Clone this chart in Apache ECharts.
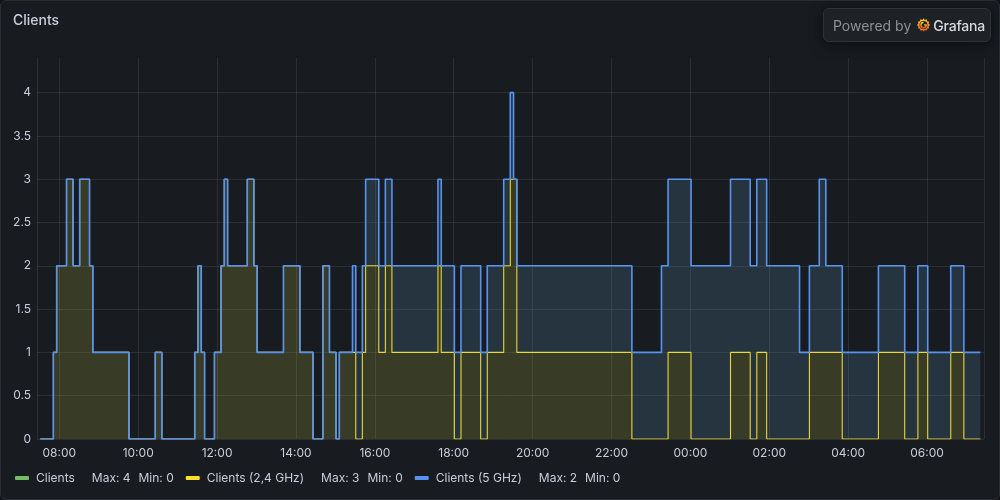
<!DOCTYPE html>
<html>
<head>
<meta charset="utf-8">
<script src="https://cdn.jsdelivr.net/npm/echarts@6/dist/echarts.min.js"></script>
<style>
  html, body { margin:0; padding:0; background:#111217; }
  #panel { position:absolute; left:0; top:0; width:1000px; height:500px; box-sizing:border-box;
           background:#181b1f; border:1px solid #2a2d33; border-radius:6px; overflow:hidden; }
  #chart { position:absolute; left:0; top:0; width:1000px; height:500px; }
  #badge { position:absolute; left:823px; top:8px; width:168px; height:34px; box-sizing:border-box;
           background:#1e2126; border:1px solid #2f3238; border-radius:6px;
           box-shadow:0 2px 14px rgba(0,0,0,0.55); display:flex; align-items:center;
           padding-left:9px; font-family:Inter, "Noto Sans", sans-serif; font-size:14px; color:#8e9096; }
  #badge svg { margin-left:5px; margin-right:2px; }
  #badge .g { color:#d8d9da; font-weight:500; letter-spacing:-0.2px; }
</style>
</head>
<body>
<div id="panel"><div id="chart"></div></div>
<div id="badge"><span>Powered by</span>
  <svg width="15" height="16" viewBox="0 0 16 16">
    <defs><linearGradient id="lg" x1="0" y1="0" x2="0" y2="1">
      <stop offset="0" stop-color="#fbd91f"/><stop offset="1" stop-color="#f05a28"/></linearGradient></defs>
    <path d="M8 0.8 L9.3 2.6 L11.4 1.9 L11.8 4.1 L14 4.6 L13.4 6.7 L15.2 8 L13.4 9.3 L14 11.4 L11.8 11.9 L11.4 14.1 L9.3 13.4 L8 15.2 L6.7 13.4 L4.6 14.1 L4.2 11.9 L2 11.4 L2.6 9.3 L0.8 8 L2.6 6.7 L2 4.6 L4.2 4.1 L4.6 1.9 L6.7 2.6 Z" fill="url(#lg)"/>
    <circle cx="8" cy="8" r="4.2" fill="#1e2126"/>
    <path d="M8 5.2 A2.8 2.8 0 1 0 10.8 8 L8.6 8" fill="none" stroke="url(#lg)" stroke-width="1.6"/>
  </svg>
  <span class="g">Grafana</span></div>
<script>
// ---- data ----
const times = ['07:31','07:51','07:56','08:11','08:21','08:31','08:46','08:51','09:46','10:26',
  '10:36','11:26','11:31','11:36','11:41','11:56','12:06','12:11','12:16','12:46',
  '12:56','13:01','13:41','14:06','14:26','14:41','14:51','15:01','15:06','15:26',
  '15:31','15:41','15:46','16:06','16:16','16:26','17:36','17:41','18:01','18:11',
  '18:41','18:51','19:16','19:26','19:31','19:36','22:31','23:16','23:26','00:01',
  '01:01','01:31','01:41','01:56','02:46','03:01','03:16','03:26','03:51','04:46',
  '05:26','05:46','06:01','06:36','06:56','07:21'];
const clients = [0,1,2,3,2,3,2,1,0,1,
  0,1,2,1,0,1,2,3,2,3,
  2,1,2,1,0,2,1,0,1,2,
  1,2,3,2,3,2,3,2,1,2,
  1,2,3,4,3,2,1,2,3,2,
  3,2,3,2,1,2,3,2,1,2,
  1,2,1,2,1,1];
const clients24 = [0,1,2,3,2,3,2,1,0,1,
  0,1,2,1,0,1,2,3,2,3,
  2,1,2,1,0,2,1,0,1,1,
  0,1,2,1,2,1,2,1,0,1,
  0,1,2,3,3,1,0,0,1,0,
  1,0,1,0,0,1,1,1,0,1,
  0,1,0,1,0,0];
const clients5 = [0,0,0,0,0,0,0,0,0,0,
  0,0,0,0,0,0,0,0,0,0,
  0,0,0,0,0,0,0,0,0,1,
  1,1,1,1,1,1,1,1,1,1,
  1,1,1,1,0,1,1,2,2,2,
  2,2,2,2,1,1,2,1,1,1,
  1,1,1,1,1,1];
const yTicks = ['0','0.5','1','1.5','2','2.5','3','3.5','4'];
const seriesNames = ['Clients', 'Clients (2,4 GHz)', 'Clients (5 GHz)'];
const rangeStart = '07:26';
const rangeEnd = '07:26';

// ---- build timestamps ----
const base = new Date(2024, 0, 1).getTime();
function toTs(list) {
  let day = 0, prev = -1;
  return list.map(s => {
    const [h, m] = s.split(':').map(Number);
    const mins = h * 60 + m;
    if (mins < prev) day++;
    prev = mins;
    return base + day * 86400000 + mins * 60000;
  });
}
const ts = toTs(times);
const pair = arr => ts.map((t, i) => [t, arr[i]]);
const [rh, rm] = rangeStart.split(':').map(Number);
const xMin = base + (rh * 60 + rm) * 60000 + 6000;
const [eh, em] = rangeEnd.split(':').map(Number);
const xMax = base + 86400000 + (eh * 60 + em) * 60000 + 36000;

const dataSets = [clients, clients24, clients5];
const colors = ['#73bf69', '#fade2a', '#5794f2'];
const stats = {};
seriesNames.forEach((n, i) => { stats[n] = { max: Math.max(...dataSets[i]), min: Math.min(...dataSets[i]) }; });

const pad = n => (n < 10 ? '0' : '') + n;
const gridColor = 'rgba(204,204,220,0.11)';

const chart = echarts.init(document.getElementById('chart'), null, { renderer: 'canvas' });
chart.setOption({
  backgroundColor: 'transparent',
  animation: false,
  textStyle: { fontFamily: 'Inter, "Noto Sans", sans-serif' },
  title: {
    text: 'Clients', left: 7, top: 8,
    textStyle: { color: '#ccccdc', fontSize: 14, fontWeight: 500, fontFamily: 'Inter' }
  },
  grid: { left: 36, right: 17, top: 57, bottom: 62, containLabel: false },
  legend: {
    left: 9, top: 466, icon: 'roundRect', itemWidth: 14, itemHeight: 4, itemGap: 12,
    data: seriesNames.map((n, i) => ({ name: n, itemStyle: { color: colors[i] }, lineStyle: { opacity: 0 } })),
    formatter: n => `{n|${n}}{a|Max: ${stats[n].max}}{b|Min: ${stats[n].min}}`,
    textStyle: {
      color: '#ccccdc', fontSize: 12, fontFamily: 'Inter',
      rich: {
        n: { color: '#ccccdc', fontSize: 12, fontFamily: 'Inter', padding: [0, 0, 0, 2] },
        a: { color: '#ccccdc', fontSize: 12, fontFamily: 'Inter', padding: [0, 0, 0, 17] },
        b: { color: '#ccccdc', fontSize: 12, fontFamily: 'Inter', padding: [0, 0, 0, 8] }
      }
    },
    selectedMode: false
  },
  xAxis: {
    type: 'time', min: xMin, max: xMax, splitNumber: 12,
    axisLine: { show: false }, axisTick: { show: false },
    axisLabel: {
      color: '#ccccdc', fontSize: 12, margin: 8, fontFamily: 'Inter',
      showMinLabel: false, showMaxLabel: false,
      formatter: v => { const d = new Date(v); return pad(d.getHours()) + ':' + pad(d.getMinutes()); }
    },
    splitLine: { show: true, lineStyle: { color: gridColor, width: 1 } }
  },
  yAxis: {
    type: 'value', min: 0, max: 4.4, interval: 0.5,
    axisLine: { show: false }, axisTick: { show: false },
    axisLabel: {
      color: '#ccccdc', fontSize: 12, margin: 6, fontFamily: 'Inter', showMaxLabel: false,
      formatter: v => yTicks[Math.round(v * 2)] || ''
    },
    splitLine: { show: true, lineStyle: { color: [gridColor, gridColor, gridColor, gridColor, gridColor,
      gridColor, gridColor, gridColor, gridColor, 'rgba(0,0,0,0)'], width: 1 } }
  },
  series: [
    {
      name: seriesNames[0], type: 'line', step: 'end', data: pair(clients),
      showSymbol: false, symbol: 'none', silent: true,
      itemStyle: { color: colors[0] }, lineStyle: { opacity: 0, width: 0 }, z: 1
    },
    {
      name: seriesNames[1], type: 'line', step: 'end', stack: 'c', data: pair(clients24),
      showSymbol: false, symbol: 'none',
      itemStyle: { color: colors[1] }, lineStyle: { color: colors[1], width: 1.1 },
      areaStyle: { color: 'rgba(184,192,71,0.2)', opacity: 1 }, z: 2
    },
    {
      name: seriesNames[2], type: 'line', step: 'end', stack: 'c', data: pair(clients5),
      showSymbol: false, symbol: 'none',
      itemStyle: { color: colors[2] }, lineStyle: { color: colors[2], width: 1.6 },
      areaStyle: { color: 'rgba(94,157,196,0.2)', opacity: 1 }, z: 3
    }
  ]
});
</script>
</body>
</html>
